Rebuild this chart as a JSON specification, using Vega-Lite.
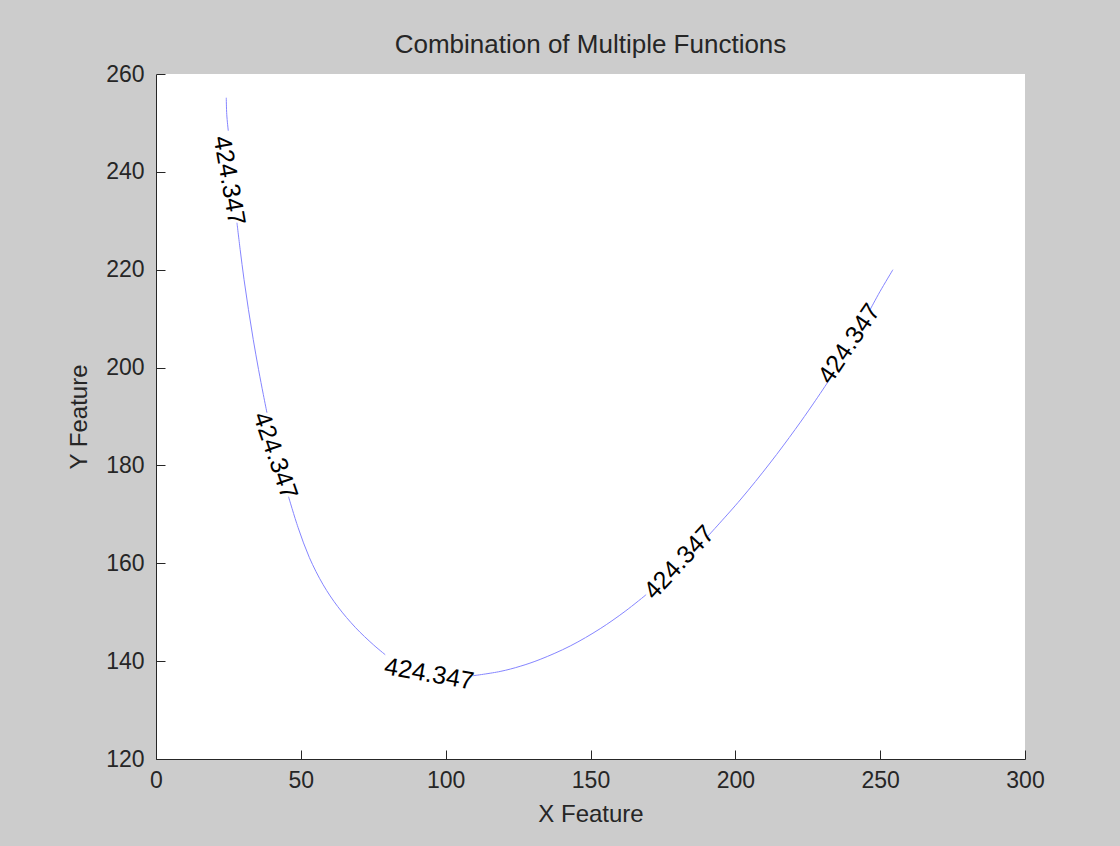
{
  "$schema": "https://vega.github.io/schema/vega-lite/v6.json",
  "width": 869,
  "height": 685,
  "autosize": {"type": "none"},
  "padding": {"left": 156, "top": 74, "right": 95, "bottom": 87},
  "background": "#cccccc",
  "title": {
    "text": "Combination of Multiple Functions",
    "font": "Liberation Sans",
    "fontSize": 26,
    "fontWeight": "normal",
    "color": "#262626",
    "offset": -21,
    "frame": "group",
    "anchor": "middle",
    "baseline": "bottom"
  },
  "config": {
    "view": {"fill": "white", "stroke": null},
    "axis": {
      "grid": false,
      "domainColor": "#262626",
      "domainWidth": 1,
      "tickColor": "#262626",
      "tickWidth": 1,
      "tickSize": -9,
      "labelFlush": false,
      "labelColor": "#262626",
      "labelFont": "Liberation Sans",
      "labelFontSize": 23,
      "titleColor": "#262626",
      "titleFont": "Liberation Sans",
      "titleFontSize": 24,
      "titleFontWeight": "normal"
    }
  },
  "datasets": {
    "curve": [
      {"seg": "A", "i": 1, "x": 24.26, "y": 255.15},
      {"seg": "A", "i": 2, "x": 24.43, "y": 251.68},
      {"seg": "A", "i": 3, "x": 24.95, "y": 248.4},
      {"seg": "B", "i": 4, "x": 27.95, "y": 229.6},
      {"seg": "B", "i": 5, "x": 29.06, "y": 224.09},
      {"seg": "B", "i": 6, "x": 30.4, "y": 217.96},
      {"seg": "B", "i": 7, "x": 31.92, "y": 211.83},
      {"seg": "B", "i": 8, "x": 33.58, "y": 205.7},
      {"seg": "B", "i": 9, "x": 35.41, "y": 199.57},
      {"seg": "B", "i": 10, "x": 37.06, "y": 194.46},
      {"seg": "B", "i": 11, "x": 38.3, "y": 190.78},
      {"seg": "C", "i": 12, "x": 45.76, "y": 173.6},
      {"seg": "C", "i": 13, "x": 49.07, "y": 167.27},
      {"seg": "C", "i": 14, "x": 52.97, "y": 161.14},
      {"seg": "C", "i": 15, "x": 57.7, "y": 155.62},
      {"seg": "C", "i": 16, "x": 62.77, "y": 151.13},
      {"seg": "C", "i": 17, "x": 68.92, "y": 146.83},
      {"seg": "C", "i": 18, "x": 75.03, "y": 143.36},
      {"seg": "C", "i": 19, "x": 79.13, "y": 141.32},
      {"seg": "D", "i": 20, "x": 109.5, "y": 137.02},
      {"seg": "D", "i": 21, "x": 118.8, "y": 137.89},
      {"seg": "D", "i": 22, "x": 125.72, "y": 138.95},
      {"seg": "D", "i": 23, "x": 132.62, "y": 140.36},
      {"seg": "D", "i": 24, "x": 143.0, "y": 143.1},
      {"seg": "D", "i": 25, "x": 153.35, "y": 146.64},
      {"seg": "D", "i": 26, "x": 161.96, "y": 150.19},
      {"seg": "D", "i": 27, "x": 169.2, "y": 153.58},
      {"seg": "E", "i": 28, "x": 190.3, "y": 165.4},
      {"seg": "E", "i": 29, "x": 201.65, "y": 172.93},
      {"seg": "E", "i": 30, "x": 212.0, "y": 180.5},
      {"seg": "E", "i": 31, "x": 220.64, "y": 187.34},
      {"seg": "E", "i": 32, "x": 226.86, "y": 192.57},
      {"seg": "E", "i": 33, "x": 232.03, "y": 197.11},
      {"seg": "F", "i": 34, "x": 246.5, "y": 211.8},
      {"seg": "F", "i": 35, "x": 249.9, "y": 215.5},
      {"seg": "F", "i": 36, "x": 254.4, "y": 220.0}
    ],
    "labels": [
      {"id": 1, "x": 25.3, "y": 238.2, "label": "424.347"},
      {"id": 2, "x": 41.2, "y": 182.0, "label": "424.347"},
      {"id": 3, "x": 94.3, "y": 137.4, "label": "424.347"},
      {"id": 4, "x": 180.6, "y": 160.2, "label": "424.347"},
      {"id": 5, "x": 239.3, "y": 204.9, "label": "424.347"}
    ]
  },
  "encoding": {
    "x": {
      "field": "x",
      "type": "quantitative",
      "scale": {"domain": [0, 300], "nice": false},
      "axis": {"title": "X Feature", "values": [0, 50, 100, 150, 200, 250, 300], "labelPadding": 19, "titlePadding": 10}
    },
    "y": {
      "field": "y",
      "type": "quantitative",
      "scale": {"domain": [120, 260], "nice": false, "zero": false},
      "axis": {"title": "Y Feature", "values": [120, 140, 160, 180, 200, 220, 240, 260], "labelPadding": 21, "titlePadding": 14}
    }
  },
  "layer": [
    {
      "data": {"name": "curve"},
      "mark": {"type": "line", "color": "#8585ff", "strokeWidth": 1, "interpolate": "catmull-rom"},
      "encoding": {
        "detail": {"field": "seg"},
        "order": {"field": "i", "type": "quantitative"}
      }
    },
    {
      "data": {"name": "labels"},
      "transform": [{"filter": "datum.id == 1"}],
      "mark": {"type": "text", "font": "Liberation Sans", "fontSize": 25, "color": "black", "angle": 80, "align": "center", "baseline": "middle"},
      "encoding": {"text": {"field": "label"}}
    },
    {
      "data": {"name": "labels"},
      "transform": [{"filter": "datum.id == 2"}],
      "mark": {"type": "text", "font": "Liberation Sans", "fontSize": 25, "color": "black", "angle": 71, "align": "center", "baseline": "middle"},
      "encoding": {"text": {"field": "label"}}
    },
    {
      "data": {"name": "labels"},
      "transform": [{"filter": "datum.id == 3"}],
      "mark": {"type": "text", "font": "Liberation Sans", "fontSize": 25, "color": "black", "angle": 10, "align": "center", "baseline": "middle"},
      "encoding": {"text": {"field": "label"}}
    },
    {
      "data": {"name": "labels"},
      "transform": [{"filter": "datum.id == 4"}],
      "mark": {"type": "text", "font": "Liberation Sans", "fontSize": 25, "color": "black", "angle": -47, "align": "center", "baseline": "middle"},
      "encoding": {"text": {"field": "label"}}
    },
    {
      "data": {"name": "labels"},
      "transform": [{"filter": "datum.id == 5"}],
      "mark": {"type": "text", "font": "Liberation Sans", "fontSize": 25, "color": "black", "angle": -56, "align": "center", "baseline": "middle"},
      "encoding": {"text": {"field": "label"}}
    }
  ]
}
